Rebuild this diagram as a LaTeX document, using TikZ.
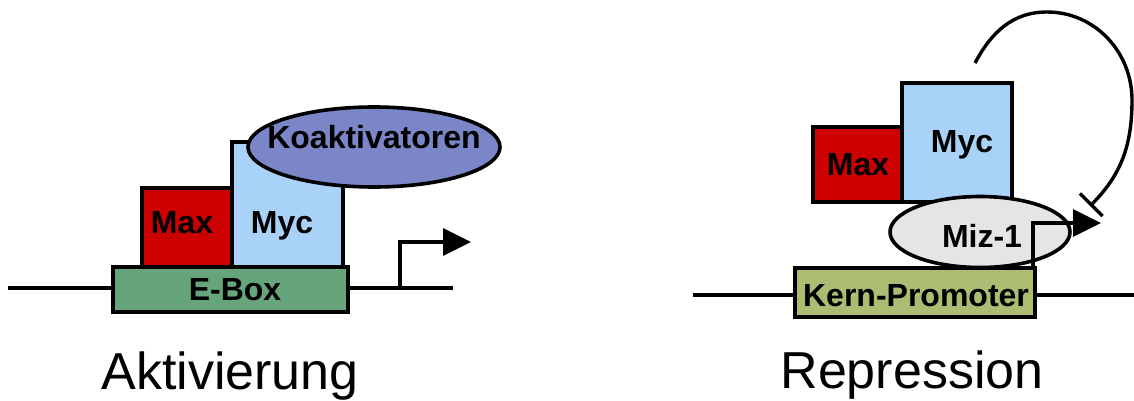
\documentclass[tikz,border=0pt]{standalone}
\usepackage{fontspec}
\setmainfont{Liberation Sans}
\usetikzlibrary{arrows.meta,shapes.geometric}

\definecolor{maxred}{HTML}{CC0000}
\definecolor{mycblue}{HTML}{A8D2F8}
\definecolor{eboxgreen}{HTML}{66A57B}
\definecolor{coactblue}{HTML}{7B86C8}
\definecolor{mizgray}{HTML}{E5E5E5}
\definecolor{promgreen}{HTML}{AABD72}

\tikzset{
  box/.style={draw=black, line width=3.6pt, inner sep=0pt},
  blob/.style={draw=black, line width=3.6pt, ellipse, inner sep=0pt},
  dna/.style={line width=3.4pt},
  lbl/.style={font=\bfseries\fontsize{32}{32}\selectfont, anchor=base, inner sep=0pt},
  caption/.style={font=\fontsize{52}{52}\selectfont, anchor=base, inner sep=0pt},
  tss/.style={line width=3.4pt, -{Triangle[length=28pt,width=27pt]}},
  block/.style={line width=3.4pt, -{Bar[width=32pt,line width=3.4pt]}}
}

\begin{document}
\begin{tikzpicture}[x=1pt, y=-1pt]
  \useasboundingbox (0,0) rectangle (1134,401);
  \fill[white] (0,0) rectangle (1134,401);

  % ---------- activation ----------
  \node[box, fill=eboxgreen, minimum width=235pt, minimum height=45pt] (ebox) at (230.5,289.5) {};
  \node[box, fill=maxred, minimum width=90pt, minimum height=79pt] (maxA) at (187,227.5) {};
  \node[box, fill=mycblue, minimum width=111pt, minimum height=125pt] (mycA) at (287.5,204.5) {};
  \node[blob, fill=coactblue, minimum width=252pt, minimum height=80pt] (coact) at (374,147) {};

  \coordinate (dnaAl) at (8,288);
  \coordinate (dnaAr) at (453,288);
  \coordinate (tssA) at (400,288);
  \coordinate (tipA) at (471,242);
  \draw[dna] (dnaAl) -- (dnaAl -| ebox.west);
  \draw[dna] (dnaAr -| ebox.east) -- (dnaAr);
  \draw[tss] (tssA) |- (tipA);

  \node[lbl] (maxAt) at (182,233) {Max};
  \node[lbl] (mycAt) at (282,233) {Myc};
  \node[lbl] (eboxt) at (235,300) {E-Box};
  \node[lbl] (coactt) at (374,148) {Koaktivatoren};

  \node[caption] (act) at (230,389) {Aktivierung};

  % ---------- repression ----------
  \node[box, fill=promgreen, minimum width=240pt, minimum height=49pt] (core) at (915,292.5) {};
  \node[box, fill=maxred, minimum width=89pt, minimum height=75pt] (maxR) at (857.5,164.5) {};
  \node[box, fill=mycblue, minimum width=110pt, minimum height=119pt] (mycR) at (957,142.5) {};
  \node[blob, fill=mizgray, minimum width=180pt, minimum height=71pt] (miz) at (980,232) {};

  \coordinate (dnaRl) at (693,295);
  \coordinate (dnaRr) at (1134,295);
  \coordinate (tssR) at (1033,268);
  \coordinate (tipR) at (1101,223);
  \draw[dna] (dnaRl) -- (dnaRl -| core.west);
  \draw[dna] (dnaRr -| core.east) -- (dnaRr);
  \draw[tss] (tssR) |- (tipR);

  % feedback loop ending in a blunt bar
  \coordinate (loopS) at (975,63);
  \coordinate (loopT) at (1047,12);
  \coordinate (loopR) at (1132,100);
  \coordinate (loopE) at (1090,206);
  \draw[block] (loopS) to[out=62,in=180] (loopT) to[out=0,in=90] (loopR) to[out=-90,in=45] (loopE);

  \node[lbl] (maxRt) at (858,175) {Max};
  \node[lbl] (mycRt) at (962,152) {Myc};
  \node[lbl] (mizt) at (982,247) {Miz-1};
  \node[lbl] (coret) at (916,306) {Kern-Promoter};

  \node[caption] (rep) at (912,388) {Repression};
\end{tikzpicture}
\end{document}
